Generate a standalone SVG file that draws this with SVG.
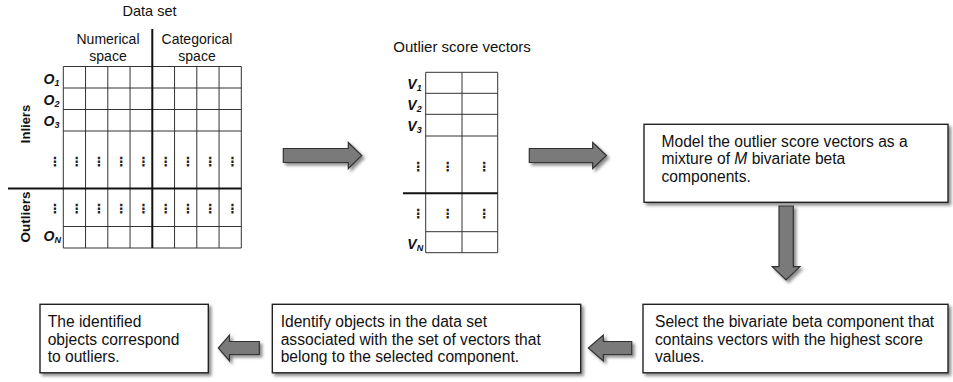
<svg xmlns="http://www.w3.org/2000/svg" width="953" height="382" viewBox="0 0 953 382">
<defs>
<filter id="sh" x="-10%" y="-20%" width="130%" height="150%">
<feDropShadow dx="2.5" dy="2.5" stdDeviation="1.6" flood-color="#000" flood-opacity="0.45"/>
</filter>
<style>
.t{font-family:"Liberation Sans",Arial,sans-serif;fill:#111}
.box{fill:#fff;stroke:#222;stroke-width:1.4;filter:url(#sh)}
.bt{font-family:"Liberation Sans",Arial,sans-serif;font-size:15.6px;fill:#111}
.grid{fill:none;stroke:#333;stroke-width:1}
.thick{fill:none;stroke:#111;stroke-width:2}
.lab{font-family:"Liberation Sans",Arial,sans-serif;font-size:14px;font-weight:bold;font-style:italic;fill:#111}
.sub{font-size:9px}
.dot{font-family:"DejaVu Sans",sans-serif;font-size:12.5px;font-weight:bold;fill:#222;text-anchor:middle}
.arr{fill:#7a7a7a;stroke:#333;stroke-width:1.2;filter:url(#sh)}
.rot{font-family:"Liberation Sans",Arial,sans-serif;font-weight:bold;fill:#111;text-anchor:middle}
</style>
</defs>

<g id="dataset">
<text class="t" x="149.5" y="16" font-size="14.5" text-anchor="middle">Data set</text>
<text class="t" x="108" y="44" font-size="14" text-anchor="middle">Numerical</text>
<text class="t" x="108" y="61" font-size="14" text-anchor="middle">space</text>
<text class="t" x="197" y="44" font-size="14" text-anchor="middle">Categorical</text>
<text class="t" x="197" y="61" font-size="14" text-anchor="middle">space</text>
<path class="grid" d="M63.3 66.5H241.3M63.3 88H241.3M63.3 109.5H241.3M63.3 131H241.3M63.3 226.5H241.3M63.3 248H241.3
M63.3 66.5V248M85.55 66.5V248M107.8 66.5V248M130.05 66.5V248M174.55 66.5V248M196.8 66.5V248M219.05 66.5V248M241.3 66.5V248"/>
<path class="thick" d="M8 188.5H241.3M152.3 29V248"/>
<text class="lab" x="43.5" y="83.5">O<tspan class="sub" dy="2.5">1</tspan></text>
<text class="lab" x="43.5" y="104.5">O<tspan class="sub" dy="2.5">2</tspan></text>
<text class="lab" x="43.5" y="125.5">O<tspan class="sub" dy="2.5">3</tspan></text>
<text class="lab" x="43.5" y="240.5">O<tspan class="sub" dy="2.5">N</tspan></text>
<text class="rot" font-size="13" transform="translate(30,124) rotate(-90)">Inliers</text>
<text class="rot" font-size="13.5" transform="translate(30,217) rotate(-90)">Outliers</text>
<g>
<text class="dot" x="55" y="166">⋮</text><text class="dot" x="76.8" y="166">⋮</text><text class="dot" x="99" y="166">⋮</text><text class="dot" x="121.3" y="166">⋮</text><text class="dot" x="143.5" y="166">⋮</text><text class="dot" x="165.8" y="166">⋮</text><text class="dot" x="188" y="166">⋮</text><text class="dot" x="210.3" y="166">⋮</text><text class="dot" x="232.5" y="166">⋮</text>
<text class="dot" x="55" y="213">⋮</text><text class="dot" x="76.8" y="213">⋮</text><text class="dot" x="99" y="213">⋮</text><text class="dot" x="121.3" y="213">⋮</text><text class="dot" x="143.5" y="213">⋮</text><text class="dot" x="165.8" y="213">⋮</text><text class="dot" x="188" y="213">⋮</text><text class="dot" x="210.3" y="213">⋮</text><text class="dot" x="232.5" y="213">⋮</text>
</g>
</g>

<g id="vectors">
<text class="t" x="462" y="52" font-size="15" text-anchor="middle">Outlier score vectors</text>
<path class="grid" d="M425.7 72.3H497.7M425.7 93.3H497.7M425.7 114.3H497.7M425.7 136H497.7M425.7 231.7H497.7M425.7 252.7H497.7
M425.7 72.3V252.7M462 72.3V252.7M497.7 72.3V252.7"/>
<path class="thick" d="M403 193.3H497.7"/>
<text class="lab" x="407.3" y="88.5">V<tspan class="sub" dy="2.5">1</tspan></text>
<text class="lab" x="407.3" y="109.5">V<tspan class="sub" dy="2.5">2</tspan></text>
<text class="lab" x="407.3" y="130.5">V<tspan class="sub" dy="2.5">3</tspan></text>
<text class="lab" x="407.3" y="248.5">V<tspan class="sub" dy="2.5">N</tspan></text>
<text class="dot" x="418.3" y="171">⋮</text><text class="dot" x="447.7" y="171">⋮</text><text class="dot" x="484.3" y="171">⋮</text>
<text class="dot" x="418.3" y="218">⋮</text><text class="dot" x="447.7" y="218">⋮</text><text class="dot" x="484.3" y="218">⋮</text>
</g>

<g id="model">
<rect class="box" x="644" y="124.3" width="304" height="78"/>
<text class="bt" x="661.5" y="146.7">Model the outlier score vectors as a</text>
<text class="bt" x="661.5" y="164.2">mixture of <tspan font-style="italic">M</tspan> bivariate beta</text>
<text class="bt" x="661.5" y="181.5">components.</text>
</g>

<g id="select">
<rect class="box" x="643" y="304.3" width="305" height="68.5"/>
<text class="bt" x="655" y="327">Select the bivariate beta component that</text>
<text class="bt" x="655" y="344.5">contains vectors with the highest score</text>
<text class="bt" x="655" y="362">values.</text>
</g>

<g id="identify">
<rect class="box" x="272.3" y="304.3" width="308.4" height="68.5"/>
<text class="bt" x="280.7" y="327">Identify objects in the data set</text>
<text class="bt" x="280.7" y="344.5">associated with the set of vectors that</text>
<text class="bt" x="280.7" y="362">belong to the selected component.</text>
</g>

<g id="result">
<rect class="box" x="40" y="304.3" width="168.3" height="68.5"/>
<text class="bt" x="47.7" y="327">The identified</text>
<text class="bt" x="47.7" y="344.5">objects correspond</text>
<text class="bt" x="47.7" y="362">to outliers.</text>
</g>

<g id="connectors">
<path class="arr" d="M283.3 148.5H348.3V142.5L361.7 155.5L348.3 168.5V162.5H283.3Z"/>
<path class="arr" d="M529.3 148.5H592.7V142.5L606.5 155.5L592.7 168.5V162.5H529.3Z"/>
<path class="arr" d="M779 206V266.7H772.3L786 280L800 266.7H793.3V206Z"/>
<path class="arr" d="M631.7 341.5H603.3V335L588.3 348L603.3 361V354.5H631.7Z"/>
<path class="arr" d="M259.3 341.5H229.5V335L218.3 348L229.5 361V354.5H259.3Z"/>
</g>
</svg>
